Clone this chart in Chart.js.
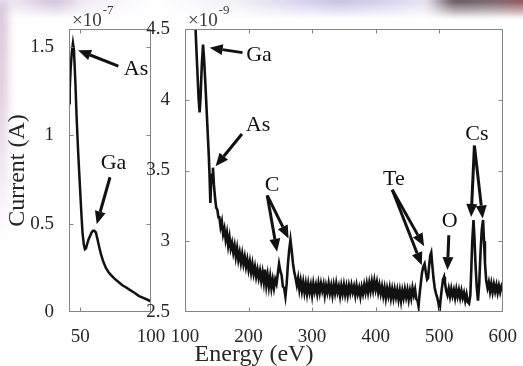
<!DOCTYPE html>
<html lang="en">
<head>
<meta charset="UTF-8">
<title>Current vs. energy</title>
<script src="https://cdn.jsdelivr.net/npm/chart.js@4.4.1/dist/chart.umd.min.js"></script>
<style>
  html, body { margin: 0; padding: 0; background: #fff; overflow: hidden; }
  body { width: 523px; height: 366px; position: relative; }
  canvas { position: absolute; top: 0; }
  #left { left: 0; }
  #right { left: 140px; }
  .haze { position: absolute; pointer-events: none; filter: blur(4px); }
  #topHaze {
    left: -10px; top: -8px; width: 545px; height: 28px;
    background: linear-gradient(to right, #fbf8fc 0%, #e4d6ea 8%, #d3c4df 12%, #f3eef6 18%, #fff 30%,
      #f1eff8 46%, #d9d3ee 57%, #c9c4e6 64%, #d5d1ec 72%, #e9e6f3 80%, #6f5b64 85%, #7a6c72 92%, #a3525b 100%);
    -webkit-mask-image: linear-gradient(to bottom, #000 35%, transparent 100%);
    mask-image: linear-gradient(to bottom, #000 35%, transparent 100%);
  }
  #sideHaze {
    left: -6px; top: 0; width: 14px; height: 240px;
    background: linear-gradient(to bottom, #d7c6dd 0%, #e2ccdc 35%, #ece2ee 65%, rgba(255,255,255,0) 100%);
  }
</style>
</head>
<body>
<div class="haze" id="topHaze"></div>
<div class="haze" id="sideHaze"></div>
<canvas id="left" width="175" height="366"></canvas>
<canvas id="right" width="383" height="366"></canvas>
<script>
// low-energy window (eV), current in units of 1e-7 A
const leftEnergy = [42.0, 42.5, 43.2, 44.0, 44.8, 45.5, 46.5, 47.4, 48.5, 49.8, 50.8, 51.6, 52.5, 53.3, 54.0,
  54.7, 55.8, 56.9, 58.0, 59.0, 59.9, 61.0, 62.2, 63.3, 64.5, 66.0, 68.0, 70.0, 71.6, 74.0, 77.0, 80.0,
  82.2, 85.0, 88.0, 91.6, 95.0, 98.7, 100.0];
const leftCurrent = [1.18, 1.26, 1.38, 1.47, 1.52, 1.48, 1.30, 1.10, 0.90, 0.70, 0.55, 0.445, 0.38, 0.355, 0.36,
  0.38, 0.41, 0.43, 0.45, 0.46, 0.46, 0.45, 0.41, 0.37, 0.33, 0.29, 0.25, 0.225, 0.21, 0.19, 0.17, 0.15,
  0.14, 0.125, 0.11, 0.09, 0.078, 0.065, 0.06];

// full sweep (eV), current in units of 1e-9 A
const rightEnergy = [116, 119, 121.5, 123, 124.5, 126.5, 128.4, 130, 132, 134, 136, 137.5, 138.5, 139.9, 141,
  142.5, 144, 145.5, 147, 149, 151, 152.5,
  154, 156, 158, 160, 162, 164, 166, 168, 170, 172, 174, 176, 178, 180, 182, 184, 186, 188, 190, 192, 194,
  196, 198, 200, 202, 204, 206, 208, 210, 212, 214, 216, 218, 220, 222, 224, 226, 228, 230, 232, 234, 236,
  238, 240,
  242, 244, 246, 248, 250, 252, 254, 256, 258, 260, 262, 264, 266, 268, 270, 272, 274, 276, 278,
  280, 282, 284, 286, 288, 290,
  292, 294, 296, 298, 300, 302, 304, 306, 308, 310, 312, 314, 316, 318, 320,
  322, 324, 326, 328, 330, 332, 334, 336, 338, 340, 342, 344, 346, 348, 350, 352, 354, 356, 358, 360, 362,
  364, 366, 368, 370, 372, 374, 376, 378, 380, 382, 384, 386, 388, 390, 392, 394, 396, 398, 400,
  402, 404, 406, 408, 410, 412, 414, 416, 418, 420, 422, 424, 426, 428, 430, 432, 434, 436, 438, 440, 442,
  444, 446, 448, 450, 452, 454, 456, 458, 460, 462, 464, 466,
  467.5, 469, 471, 473, 475, 477, 479, 481, 482.5, 484, 486, 487.5, 489, 491, 493, 495, 497, 499, 500.6,
  502, 504, 506, 507.7,
  509, 511, 513, 515, 517, 519, 521, 523, 525, 527, 529, 531, 533, 535, 537, 539, 541, 543, 545, 547,
  549, 550.5, 552, 554, 555.5, 557, 559, 561, 563, 565, 567, 569, 570.5, 572, 574,
  576, 578, 580, 582, 584, 586, 588, 590, 592, 594, 596, 598, 600];
const rightCurrent = [4.56, 4.25, 4.00, 3.91, 4.02, 4.25, 4.39, 4.29, 4.12, 3.93, 3.74, 3.60, 3.48, 3.27, 3.40,
  3.47, 3.52, 3.40, 3.32, 3.24, 3.22, 3.17,
  3.17, 3.10, 3.14, 3.05, 3.09, 3.01, 3.06, 2.97, 3.03, 2.95, 2.99, 2.92, 2.97, 2.89, 2.95, 2.87, 2.92,
  2.85, 2.91, 2.84, 2.89, 2.82, 2.87, 2.80, 2.855, 2.78, 2.84, 2.77, 2.82, 2.75, 2.80, 2.74, 2.79, 2.72,
  2.78, 2.71, 2.80, 2.69, 2.76, 2.68, 2.75, 2.67, 2.73, 2.67,
  2.73, 2.70, 2.77, 2.84, 2.79, 2.76, 2.68, 2.67, 2.61, 2.70, 2.84, 2.94, 3.01, 2.93, 2.84, 2.78, 2.74,
  2.69, 2.74, 2.66, 2.72, 2.65, 2.71, 2.64, 2.70,
  2.63, 2.70, 2.64, 2.69, 2.62, 2.70, 2.645, 2.69, 2.63, 2.70, 2.64, 2.70, 2.65, 2.695, 2.62,
  2.685, 2.64, 2.70, 2.635, 2.685, 2.62, 2.69, 2.635, 2.70, 2.64, 2.68, 2.615, 2.685, 2.63, 2.69, 2.625,
  2.68, 2.62, 2.685, 2.635, 2.69, 2.64, 2.68, 2.62, 2.685, 2.63, 2.67, 2.61, 2.675, 2.63, 2.69, 2.64,
  2.70, 2.64, 2.705, 2.65, 2.715, 2.655, 2.72, 2.66,
  2.71, 2.64, 2.69, 2.63, 2.68, 2.615, 2.67, 2.60, 2.665, 2.615, 2.67, 2.60, 2.66, 2.60, 2.66, 2.605,
  2.655, 2.59, 2.65, 2.58, 2.65, 2.60, 2.66, 2.605, 2.655, 2.59, 2.65, 2.60, 2.67, 2.62, 2.66, 2.59, 2.58,
  2.54, 2.62, 2.70, 2.78, 2.82, 2.84, 2.78, 2.73, 2.74, 2.82, 2.90, 2.92, 2.84, 2.74, 2.67, 2.63, 2.60,
  2.56, 2.51, 2.58, 2.66, 2.73, 2.75,
  2.71, 2.65, 2.62, 2.665, 2.61, 2.665, 2.615, 2.655, 2.60, 2.66, 2.61, 2.655, 2.60, 2.65, 2.60, 2.635,
  2.58, 2.625, 2.57, 2.56,
  2.62, 2.80, 3.00, 3.15, 3.02, 2.85, 2.68, 2.58, 2.70, 2.92, 3.08, 3.15, 3.00, 2.85, 2.72,
  2.67, 2.71, 2.645, 2.70, 2.64, 2.695, 2.645, 2.69, 2.635, 2.685, 2.64, 2.68, 2.65];

const leftXTicks = [50, 100];
const leftYTicks = [0, 0.5, 1, 1.5];
const rightXTicks = [100, 200, 300, 400, 500, 600];
const rightYTicks = [2.5, 3, 3.5, 4, 4.5];

// element labels [text, energy, current] and arrows [tailE, tailI, headE, headI]
const leftPeakLabels = [['As', 89.4, 1.37], ['Ga', 73.5, 0.84]];
const leftArrows = [[76.9, 1.39, 48.4, 1.48], [71.0, 0.762, 61.6, 0.496]];
const rightPeakLabels = [['Ga', 216.5, 4.317], ['As', 214.9, 3.817], ['C', 237.1, 3.394],
  ['Te', 428.7, 3.44], ['O', 516.6, 3.143], ['Cs', 559.2, 3.758]];
const rightArrows = [
  [190.5, 4.333, 138.8, 4.368],
  [189.6, 3.758, 148.1, 3.53],
  [229.4, 3.324, 244.9, 2.925],
  [229.4, 3.324, 263.0, 3.019],
  [426.1, 3.364, 472.7, 2.83],
  [426.1, 3.364, 476.3, 2.965],
  [515.1, 3.042, 513.0, 2.796],
  [555.4, 3.676, 550.3, 3.171],
  [555.4, 3.676, 568.5, 3.16]
];

const SERIF = '"Liberation Serif", "DejaVu Serif", serif';
const INK = '#111';
const TICK = '#262626';

function arrow(ctx, x0, y0, x1, y1) {
  const a = Math.atan2(y1 - y0, x1 - x0);
  const len = 13, half = 5.5;
  const bx = x1 - len * Math.cos(a), by = y1 - len * Math.sin(a);
  ctx.beginPath();
  ctx.moveTo(x0, y0);
  ctx.lineTo(bx, by);
  ctx.stroke();
  ctx.beginPath();
  ctx.moveTo(x1, y1);
  ctx.lineTo(bx + half * Math.sin(a), by - half * Math.cos(a));
  ctx.lineTo(bx - half * Math.sin(a), by + half * Math.cos(a));
  ctx.closePath();
  ctx.fill();
}

// box, inward ticks, exponent, arrows and element names
const panelFrame = {
  id: 'panelFrame',
  afterDatasetsDraw(chart, args, opts) {
    const { ctx, chartArea: a, scales: { x, y } } = chart;
    const l = Math.round(a.left) + 0.5, r = Math.round(a.right) - 0.5;
    const t = Math.round(a.top) + 0.5, b = Math.round(a.bottom) - 0.5;
    ctx.save();
    ctx.strokeStyle = '#858585';
    ctx.lineWidth = 1;
    ctx.strokeRect(l, t, r - l, b - t);
    ctx.beginPath();
    x.ticks.forEach(tk => {
      const px = Math.round(x.getPixelForValue(tk.value)) + 0.5;
      if (px <= l + 1 || px >= r - 1) return;
      ctx.moveTo(px, b); ctx.lineTo(px, b - 4);
      ctx.moveTo(px, t); ctx.lineTo(px, t + 4);
    });
    y.ticks.forEach(tk => {
      const py = Math.round(y.getPixelForValue(tk.value)) + 0.5;
      if (py <= t + 1 || py >= b - 1) return;
      ctx.moveTo(l, py); ctx.lineTo(l + 4, py);
      ctx.moveTo(r, py); ctx.lineTo(r - 4, py);
    });
    ctx.stroke();

    // scale factor above the y axis
    ctx.fillStyle = '#3a3a3a';
    ctx.textBaseline = 'alphabetic';
    ctx.textAlign = 'left';
    ctx.font = '19px ' + SERIF;
    ctx.fillText('\u00d710', a.left + 3, 26);
    const w = ctx.measureText('\u00d710').width;
    ctx.font = '13px ' + SERIF;
    ctx.fillText('-' + opts.exponent, a.left + 4 + w, 14);

    ctx.strokeStyle = INK;
    ctx.fillStyle = INK;
    ctx.lineWidth = 3;
    ctx.lineCap = 'butt';
    opts.arrows.forEach(([te, ti, he, hi]) => arrow(ctx,
      x.getPixelForValue(te), y.getPixelForValue(ti),
      x.getPixelForValue(he), y.getPixelForValue(hi)));

    ctx.font = '22px ' + SERIF;
    ctx.textAlign = 'center';
    ctx.textBaseline = 'middle';
    opts.labels.forEach(([txt, e, i]) => ctx.fillText(txt, x.getPixelForValue(e), y.getPixelForValue(i)));

    if (opts.xTitle) {
      ctx.fillStyle = TICK;
      ctx.font = '24px ' + SERIF;
      ctx.textBaseline = 'alphabetic';
      ctx.fillText(opts.xTitle, a.left + 69, 361);
    }
    ctx.restore();
  }
};

function panel(id, energy, current, view) {
  const tickFont = { family: SERIF, size: 19 };
  return new Chart(document.getElementById(id), {
    type: 'line',
    data: {
      datasets: [{
        data: energy.map((e, i) => ({ x: e, y: current[i] })),
        borderColor: INK,
        borderWidth: view.lineWidth,
        pointRadius: 0,
        tension: 0,
        fill: false
      }]
    },
    options: {
      responsive: false,
      animation: false,
      events: [],
      layout: { autoPadding: false, padding: view.padding },
      plugins: {
        legend: { display: false },
        tooltip: { enabled: false },
        panelFrame: view.frame
      },
      scales: {
        x: {
          type: 'linear',
          min: view.xMin,
          max: view.xMax,
          grid: { display: false },
          border: { display: false },
          ticks: { color: TICK, font: tickFont, padding: 6, maxRotation: 0, autoSkip: false, callback: v => String(v) },
          afterBuildTicks: s => { s.ticks = view.xTicks.map(v => ({ value: v })); },
          afterFit: s => { s.height = 54; }
        },
        y: {
          min: view.yMin,
          max: view.yMax,
          grid: { display: false },
          border: { display: false },
          title: view.yTitle ? {
            display: true, text: view.yTitle, color: TICK,
            font: { family: SERIF, size: 24 }, padding: { top: 3, bottom: 0 }
          } : { display: false },
          ticks: { color: TICK, font: tickFont, padding: 7, autoSkip: false, callback: v => String(v) },
          afterBuildTicks: s => { s.ticks = view.yTicks.map(v => ({ value: v })); },
          afterFit: s => { s.width = view.yAxisWidth; }
        }
      }
    },
    plugins: [panelFrame]
  });
}

panel('left', leftEnergy, leftCurrent, {
  xMin: 42, xMax: 100, yMin: 0, yMax: 1.6,
  xTicks: leftXTicks, yTicks: leftYTicks,
  yTitle: 'Current (A)',
  yAxisWidth: 69,
  padding: { left: 0, right: 24, top: 29, bottom: 0 },
  lineWidth: 2.5,
  frame: { exponent: 7, arrows: leftArrows, labels: leftPeakLabels }
});

panel('right', rightEnergy, rightCurrent, {
  xMin: 100, xMax: 600, yMin: 2.5, yMax: 4.5,
  xTicks: rightXTicks, yTicks: rightYTicks,
  yAxisWidth: 45,
  padding: { left: 0, right: 16, top: 29, bottom: 0 },
  lineWidth: 2.6,
  frame: { exponent: 9, arrows: rightArrows, labels: rightPeakLabels, xTitle: 'Energy (eV)' }
});
</script>
</body>
</html>
